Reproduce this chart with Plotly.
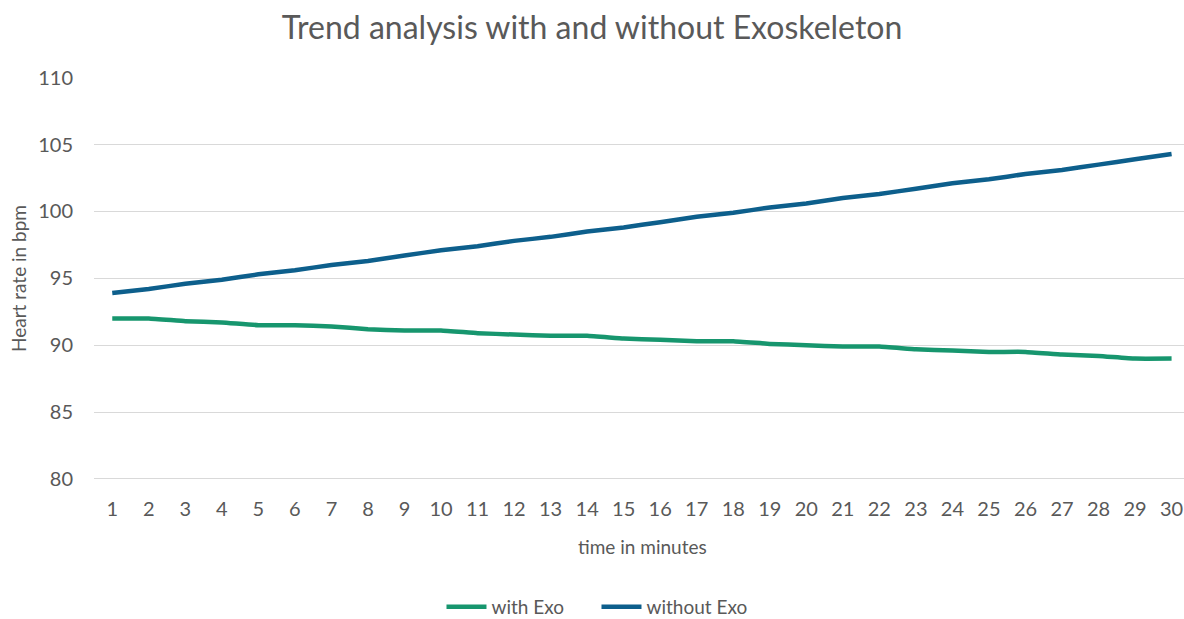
import plotly.graph_objects as go

# Minutes on the x axis and heart-rate readings for both conditions
minutes = list(range(1, 31))
with_exo = [92.0, 92.0, 91.8, 91.7, 91.5, 91.5, 91.4, 91.2, 91.1, 91.1,
            90.9, 90.8, 90.7, 90.7, 90.5, 90.4, 90.3, 90.3, 90.1, 90.0,
            89.9, 89.9, 89.7, 89.6, 89.5, 89.5, 89.3, 89.2, 89.0, 89.0]
without_exo = [93.9, 94.2, 94.6, 94.9, 95.3, 95.6, 96.0, 96.3, 96.7, 97.1,
               97.4, 97.8, 98.1, 98.5, 98.8, 99.2, 99.6, 99.9, 100.3, 100.6,
               101.0, 101.3, 101.7, 102.1, 102.4, 102.8, 103.1, 103.5, 103.9, 104.3]
y_ticks = [80, 85, 90, 95, 100, 105, 110]

FONT = "Lato, Carlito, Calibri, sans-serif"
TEXT = "#595959"
GREEN = "#17966e"
BLUE = "#0d5f8c"

TOP, BOTTOM = 77, 138
PLOT_H = 619 - TOP - BOTTOM

fig = go.Figure()
fig.add_trace(go.Scatter(x=minutes, y=with_exo, mode="lines", name="with Exo",
                         line=dict(color=GREEN, width=4.5, shape="spline", smoothing=0.3)))
fig.add_trace(go.Scatter(x=minutes, y=without_exo, mode="lines", name="without Exo",
                         line=dict(color=BLUE, width=4.5, shape="spline", smoothing=0.3)))

fig.update_layout(
    width=1184, height=619,
    margin=dict(l=94, r=0, t=TOP, b=BOTTOM),
    paper_bgcolor="white", plot_bgcolor="white",
    font=dict(family=FONT, color=TEXT, size=19),
    title=dict(text="Trend analysis with and without Exoskeleton",
               x=0.5, xref="container", xanchor="center",
               y=1 - 28 / 619, yref="container", yanchor="middle",
               font=dict(size=32, color=TEXT, family=FONT)),
    showlegend=True,
    legend=dict(orientation="h", x=0.461, xanchor="center",
                xref="paper", yref="container",
                y=1 - 607 / 619, yanchor="middle",
                font=dict(size=19, color=TEXT, family=FONT),
                entrywidth=100, entrywidthmode="pixels",
                itemwidth=40, tracegroupgap=0, bgcolor="rgba(0,0,0,0)"),
)

fig.update_xaxes(
    range=[0.5, 30.34], tickmode="array", tickvals=minutes,
    ticktext=[str(m) for m in minutes],
    showgrid=False, zeroline=False, showline=False, ticks="",
    ticklabelstandoff=14, tickfont=dict(size=20, color=TEXT, family=FONT),
)
fig.update_yaxes(
    range=[79.85, 110.05], tickmode="array", tickvals=y_ticks,
    showgrid=True, gridcolor="#d9d9d9", gridwidth=1,
    zeroline=False, showline=False, ticks="",
    ticklabelstandoff=20, tickfont=dict(size=20, color=TEXT, family=FONT),
)

fig.add_annotation(text="Heart rate in bpm", textangle=-90,
                   xref="paper", yref="paper", x=-76 / 1090, y=0.5,
                   xanchor="center", yanchor="middle", showarrow=False,
                   font=dict(size=19, color=TEXT, family=FONT))
fig.add_annotation(text="time in minutes",
                   xref="paper", yref="paper", x=0.503, y=-(546 - (619 - BOTTOM)) / PLOT_H,
                   xanchor="center", yanchor="middle", showarrow=False,
                   font=dict(size=19, color=TEXT, family=FONT))

fig.write_html("out.html")
